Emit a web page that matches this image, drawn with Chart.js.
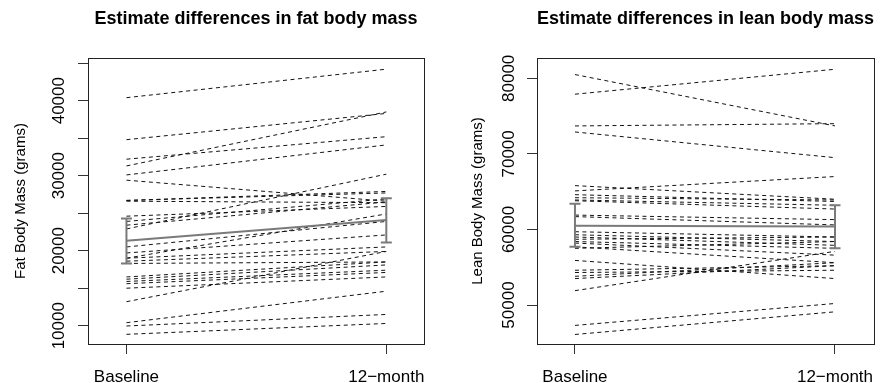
<!DOCTYPE html>
<html><head><meta charset="utf-8">
<script src="https://cdn.jsdelivr.net/npm/chart.js@4"></script>
<style>
html,body{margin:0;padding:0;background:#fff;}
#wrap{position:relative;width:893px;height:383px;overflow:hidden;background:#fff;}
canvas{position:absolute;top:0;display:block;}
</style></head><body>
<div id="wrap">
<canvas id="c1" width="446" height="383" style="left:0px"></canvas>
<canvas id="c2" width="447" height="383" style="left:446px"></canvas>
</div>
<script>
// ---- data ----
const timepoints = [1, 2];
const timeLabels = ['Baseline', '12\u2212month'];

const fatBaseline = [40400, 34800, 31300, 32200, 30100, 29400, 26700, 26700, 26600, 24600, 23900, 23400, 22900, 20500,
  19700, 19000, 19000, 18600, 18300, 16500, 16200, 15900, 15600, 15000, 13200, 10400, 9960, 8850];
const fat12month = [44200, 38300, 38500, 35200, 34100, 26600, 27900, 27700, 26400, 25900, 26900, 26500, 30200, 23900,
  22100, 24900, 20500, 19900, 18500, 18500, 18100, 17400, 17100, 16500, 19900, 14600, 11500, 10300];
const fatMean = [21330, 24090];
const fatLower = [18300, 21100];
const fatUpper = [24300, 27000];
const fatTicks = [10000, 15000, 20000, 25000, 30000, 35000, 40000, 45000];
const fatTickLabels = ['10000', '', '20000', '', '30000', '', '40000', ''];

const leanBaseline = [80500, 77900, 73700, 72900, 65800, 65100, 64600, 64200, 63800, 63900, 61900, 61700, 59700, 59300,
  59000, 58700, 58400, 58200, 57700, 57500, 55900, 54600, 54300, 53800, 53500, 51900, 47300, 46100];
const lean12month = [73700, 81200, 74000, 69500, 64000, 67000, 63700, 63900, 62700, 63200, 61300, 60600, 59000, 58400,
  57900, 59000, 57500, 56600, 55600, 58400, 53500, 55200, 54600, 55600, 55200, 57100, 50200, 49100];
const leanMean = [60500, 60400];
const leanLower = [57700, 57500];
const leanUpper = [63400, 63200];
const leanTicks = [50000, 60000, 70000, 80000];
const leanTickLabels = ['50000', '60000', '70000', '80000'];

// ---- drawing ----
const FONT = "'Liberation Sans', Arial, Helvetica, sans-serif";
const MEAN_COLOR = '#7a7a7a';

function makeChart(id, o) {
  const datasets = o.base.map((b, i) => ({
    data: [{x: timepoints[0], y: b}, {x: timepoints[1], y: o.end[i]}],
    borderColor: '#111', borderWidth: 1, borderDash: [4, 3.5],
    pointRadius: 0, showLine: true, fill: false, tension: 0, order: 2
  }));
  datasets.push({
    data: timepoints.map((t, i) => ({x: t, y: o.mean[i]})),
    borderColor: MEAN_COLOR, borderWidth: 2, pointRadius: 0, showLine: true, fill: false, order: 0
  });
  const errPlugin = {
    id: 'errbars',
    afterDatasetsDraw(chart) {
      const {ctx, scales: {x, y}} = chart;
      ctx.save();
      ctx.strokeStyle = MEAN_COLOR; ctx.lineWidth = 2;
      timepoints.forEach((t, i) => {
        const px = x.getPixelForValue(t);
        const lo = y.getPixelForValue(o.lower[i]);
        const hi = y.getPixelForValue(o.upper[i]);
        ctx.beginPath();
        ctx.moveTo(px, lo); ctx.lineTo(px, hi);
        ctx.moveTo(px - 5.5, lo); ctx.lineTo(px + 5.5, lo);
        ctx.moveTo(px - 5.5, hi); ctx.lineTo(px + 5.5, hi);
        ctx.stroke();
      });
      ctx.restore();
    }
  };
  const framePlugin = {
    id: 'frame',
    afterDraw(chart) {
      const a = chart.chartArea, ctx = chart.ctx;
      ctx.save();
      ctx.strokeStyle = '#222'; ctx.lineWidth = 1;
      ctx.strokeRect(Math.round(a.left) + 0.5, Math.round(a.top) + 0.5,
        Math.round(a.right - a.left), Math.round(a.bottom - a.top));
      ctx.font = 'bold 18px ' + FONT;
      ctx.fillStyle = '#000'; ctx.textAlign = 'center'; ctx.textBaseline = 'alphabetic';
      ctx.fillText(o.title, (a.left + a.right) / 2, 24);
      ctx.restore();
    }
  };
  return new Chart(document.getElementById(id), {
    type: 'scatter',
    data: {datasets},
    plugins: [errPlugin, framePlugin],
    options: {
      responsive: false, animation: false, events: [],
      layout: {padding: {left: 0, right: o.padRight, top: 58, bottom: 0}},
      plugins: {legend: {display: false}, tooltip: {enabled: false}, title: {display: false}},
      scales: {
        x: {
          type: 'linear', min: o.xmin, max: o.xmax,
          afterBuildTicks: s => { s.ticks = timepoints.map(v => ({value: v})); },
          afterFit: s => { s.height = 39; },
          grid: {drawOnChartArea: false, drawTicks: true, tickLength: 10, color: '#333'},
          border: {display: false},
          ticks: {autoSkip: false, maxRotation: 0, minRotation: 0, padding: 13, color: '#000',
            font: {family: FONT, size: 17},
            callback: v => { const k = timepoints.indexOf(v); return k >= 0 ? timeLabels[k] : ''; }}
        },
        y: {
          type: 'linear', min: o.ymin, max: o.ymax,
          afterBuildTicks: s => { s.ticks = o.ticks.map(v => ({value: v})); },
          afterFit: s => { s.width = o.yWidth; },
          grid: {drawOnChartArea: false, drawTicks: true, tickLength: 10, color: '#333'},
          border: {display: false},
          ticks: {autoSkip: false, minRotation: 90, maxRotation: 90, crossAlign: 'center',
            padding: o.tickPad, color: '#000', font: {family: FONT, size: 17},
            callback: v => { const k = o.ticks.indexOf(v); return k >= 0 ? o.tickLabels[k] : ''; }},
          title: {display: true, text: o.ytitle, color: '#000', font: {family: FONT, size: 15},
            padding: {top: o.titlePad, bottom: 0}}
        }
      }
    }
  });
}

makeChart('c1', {
  base: fatBaseline, end: fat12month, mean: fatMean, lower: fatLower, upper: fatUpper,
  ticks: fatTicks, tickLabels: fatTickLabels,
  title: 'Estimate differences in fat body mass', ytitle: 'Fat Body Mass (grams)',
  xmin: 0.852, xmax: 2.145, ymin: 7560, ymax: 45690,
  yWidth: 88, padRight: 22, tickPad: -4.8, titlePad: 12
});
makeChart('c2', {
  base: leanBaseline, end: lean12month, mean: leanMean, lower: leanLower, upper: leanUpper,
  ticks: leanTicks, tickLabels: leanTickLabels,
  title: 'Estimate differences in lean body mass', ytitle: 'Lean Body Mass (grams)',
  xmin: 0.854, xmax: 2.15, ymin: 44840, ymax: 82690,
  yWidth: 91, padRight: 19, tickPad: -5.6, titlePad: 23
});
</script>
</body></html>
